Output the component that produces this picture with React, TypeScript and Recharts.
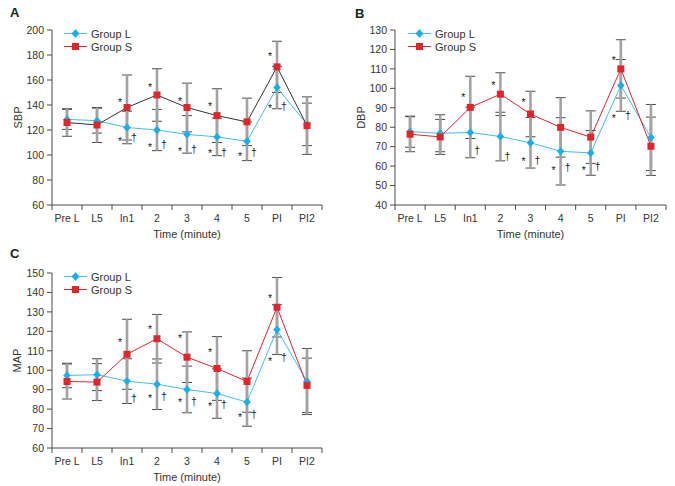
import React from 'react';
import { ComposedChart, Line, XAxis, YAxis, ErrorBar, Legend } from 'recharts';

const categories = ['Pre L', 'L5', 'In1', '2', '3', '4', '5', 'PI', 'PI2'];
const seriesNames = ['Group L', 'Group S'];

// A: SBP
const sbpTicks = [60, 80, 100, 120, 140, 160, 180, 200];
const sbpL = [128.5, 127.5, 122, 120, 116.5, 114.5, 111, 154, 124.5];
const sbpLErr = [8, 10, 13, 16.5, 15, 15, 15.5, 17, 17];
const sbpS = [126, 124, 138, 148, 138, 131.5, 126.5, 170.5, 123.5];
const sbpSErr = [11, 14, 26, 21, 19.5, 21.5, 19, 20.5, 23];
const sbpStarUp = [null, null, 144, 156, 144.5, 140.5, null, 181, null];
const sbpStarDown = [null, null, 112.5, 108, 104.5, 103.3, 100.6, 139, null];
const sbpDagger = [null, null, 113.4, 108, 104, 102, 101.4, 138.4, null];

// B: DBP
const dbpTicks = [40, 50, 60, 70, 80, 90, 100, 110, 120, 130];
const dbpL = [77.7, 76.9, 77.3, 75.2, 72, 67.6, 66.8, 101.5, 74.7];
const dbpLErr = [8, 9.5, 13, 12.5, 13, 17.3, 11.5, 13.3, 17];
const dbpS = [76.4, 75, 90.2, 97, 86.8, 79.9, 74.9, 110, 70.2];
const dbpSErr = [9, 9, 16, 11, 11.7, 15.3, 13.5, 15, 15];
const dbpStarUp = [null, null, 96.7, 102.8, 93.8, null, null, 115.7, null];
const dbpStarDown = [null, null, null, null, 63.5, 59, 59, 86, null];
const dbpDagger = [null, null, 67.8, 64.9, 62.6, 59, 59.5, 86, null];

// C: MAP
const mapTicks = [60, 70, 80, 90, 100, 110, 120, 130, 140, 150];
const mapL = [97.3, 97.7, 94.4, 92.8, 90.1, 88, 83.6, 120.9, 94.2];
const mapLErr = [6.3, 8.2, 11.5, 13, 12, 12.7, 12.4, 12.8, 17];
const mapS = [94.2, 93.9, 108.2, 116.2, 106.7, 100.9, 94.2, 132.4, 92.2];
const mapSErr = [9, 9.5, 18, 12.5, 13, 16.4, 15.8, 15.3, 14];
const mapStarUp = [null, null, 115.4, 122.3, 117.5, 110.6, null, 138.2, null];
const mapStarDown = [null, null, null, 86.9, 84.6, 82.4, 76.8, 105.7, null];
const mapDagger = [null, null, 85.1, 86, 83.5, 82.2, 76.8, 106.4, null];

const CYAN = '#1eaee6';
const CYAN_LINE = '#45bdea';
const RED = '#e0262c';
const AXIS = '#4a4a4a';
const BAR = '#a3a3a3';
const TEXT = '#333';
const FONT = '"Liberation Sans", Arial, sans-serif';

const xTicks = categories.flatMap((_, i) => [i - 0.5, i]).concat(categories.length - 0.5);

const buildRows = (L: number[], Le: number[], S: number[], Se: number[], up: any[], down: any[], dag: any[]) =>
  categories.map((c, i) => ({
    x: i, name: c, L: L[i], Lerr: Le[i], S: S[i], Serr: Se[i], up: up[i], down: down[i], dag: dag[i],
  }));

const XTick = (props: any) => {
  const { x, y, payload } = props;
  const v = payload.value;
  if (Number.isInteger(v)) {
    return (
      <text x={x} y={y + 8.7} textAnchor="middle" fontSize={10.5} fill={TEXT} fontFamily={FONT}>
        {categories[v]}
      </text>
    );
  }
  return <line x1={x} x2={x} y1={y - 8} y2={y - 3} stroke={AXIS} />;
};

const diamond = (p: any) =>
  p.cy == null ? <g key={p.index} /> : (
    <polygon key={p.index} fill={CYAN}
      points={`${p.cx},${p.cy - 4.2} ${p.cx + 3.8},${p.cy} ${p.cx},${p.cy + 4.2} ${p.cx - 3.8},${p.cy}`} />
  );

const square = (p: any) =>
  p.cy == null ? <g key={p.index} /> : (
    <rect key={p.index} x={p.cx - 3.5} y={p.cy - 3.5} width={7} height={7} fill={RED} />
  );

const glyph = (ch: string, dx: number, dy: number) => (p: any) =>
  p.cy == null || p.value == null ? <g key={p.index} /> : (
    <text key={p.index} x={p.cx + dx} y={p.cy + dy} textAnchor="middle" fontSize={10.5} fill="#222" stroke="none" fontFamily={FONT}>
      {ch}
    </text>
  );

const LegendBox = () => (
  <div style={{ fontFamily: FONT, fontSize: 11, color: TEXT }}>
    {seriesNames.map((n, i) => (
      <div key={n} style={{ display: 'flex', alignItems: 'center', height: 13 }}>
        <svg width={23} height={13}>
          <line x1={0} x2={23} y1={6.5} y2={6.5} stroke={i === 0 ? CYAN_LINE : RED} strokeWidth={1} />
          {i === 0 ? (
            <polygon points="11.5,2 15.5,6.5 11.5,11 7.5,6.5" fill={CYAN} />
          ) : (
            <rect x={8} y={3} width={7} height={7} fill={RED} />
          )}
        </svg>
        <span style={{ marginLeft: 4 }}>{n}</span>
      </div>
    ))}
  </div>
);

interface PanelProps {
  letter: string;
  letterPos: { left: number; top: number };
  left: number;
  top: number;
  width: number;
  marginLeft: number;
  marginRight: number;
  yWidth: number;
  yLabel: string;
  yLabelOffset: number;
  ticks: number[];
  data: any[];
  sStroke: string;
  legendLeft: number;
}

const Panel = (p: PanelProps) => {
  const domain = [p.ticks[0], p.ticks[p.ticks.length - 1]];
  return (
    <div style={{ position: 'absolute', left: p.left, top: p.top, width: p.width, height: 243 }}>
      <div style={{ position: 'absolute', left: p.letterPos.left, top: p.letterPos.top, fontFamily: FONT, fontWeight: 'bold', fontSize: 13, color: '#222', lineHeight: '15px' }}>
        {p.letter}
      </div>
      <ComposedChart width={p.width} height={243} data={p.data}
        margin={{ top: 30, right: p.marginRight, left: p.marginLeft, bottom: 0 }}>
        <XAxis dataKey="x" type="number" domain={[-0.5, categories.length - 0.5]} ticks={xTicks} interval={0}
          tick={<XTick />} tickLine={false} tickSize={5} tickMargin={3} stroke={AXIS} height={38}
          label={{ value: 'Time (minute)', position: 'insideBottom', offset: 5, fill: TEXT, fontSize: 11, fontFamily: FONT }} />
        <YAxis type="number" domain={domain} ticks={p.ticks} interval={0} tickSize={5} tickMargin={3}
          width={p.yWidth} stroke={AXIS} tick={{ fill: TEXT, fontSize: 10.5, fontFamily: FONT }}
          label={{ value: p.yLabel, angle: -90, position: 'insideLeft', offset: p.yLabelOffset, fill: TEXT, fontSize: 11, fontFamily: FONT, style: { textAnchor: 'middle' } }} />
        <Legend layout="vertical" align="center" verticalAlign="middle" content={<LegendBox />}
          wrapperStyle={{ left: p.legendLeft, top: 27, width: 100 }} />
        <Line dataKey="L" stroke="none" dot={false} activeDot={false} legendType="none" isAnimationActive={false}>
          <ErrorBar dataKey="Lerr" width={5} stroke={AXIS} strokeWidth={1} isAnimationActive={false} />
        </Line>
        <Line dataKey="S" stroke="none" dot={false} activeDot={false} legendType="none" isAnimationActive={false}>
          <ErrorBar dataKey="Serr" width={5} stroke={AXIS} strokeWidth={1} isAnimationActive={false} />
        </Line>
        <Line dataKey="L" stroke="none" dot={false} activeDot={false} legendType="none" isAnimationActive={false}>
          <ErrorBar dataKey="Lerr" width={0} stroke={BAR} strokeWidth={2.6} isAnimationActive={false} />
        </Line>
        <Line dataKey="S" stroke="none" dot={false} activeDot={false} legendType="none" isAnimationActive={false}>
          <ErrorBar dataKey="Serr" width={0} stroke={BAR} strokeWidth={2.6} isAnimationActive={false} />
        </Line>
        <Line dataKey="L" name={seriesNames[0]} stroke={CYAN_LINE} strokeWidth={1} dot={diamond} activeDot={false} isAnimationActive={false} />
        <Line dataKey="S" name={seriesNames[1]} stroke={p.sStroke} strokeWidth={1} dot={square} activeDot={false} isAnimationActive={false} />
        <Line dataKey="up" stroke="none" dot={glyph('*', -7, 6)} activeDot={false} legendType="none" isAnimationActive={false} />
        <Line dataKey="down" stroke="none" dot={glyph('*', -7, 6)} activeDot={false} legendType="none" isAnimationActive={false} />
        <Line dataKey="dag" stroke="none" dot={glyph('\u2020', 7, 3)} activeDot={false} legendType="none" isAnimationActive={false} />
      </ComposedChart>
    </div>
  );
};

const App = () => (
  <div style={{ position: 'absolute', left: 0, top: 0, width: 675, height: 486, background: '#fff', overflow: 'hidden' }}>
    <Panel letter="A" letterPos={{ left: 10, top: 5 }} left={0} top={0} width={340}
      marginLeft={8} marginRight={18} yWidth={44} yLabel="SBP" yLabelOffset={10}
      ticks={sbpTicks} data={buildRows(sbpL, sbpLErr, sbpS, sbpSErr, sbpStarUp, sbpStarDown, sbpDagger)}
      sStroke="#333" legendLeft={64} />
    <Panel letter="B" letterPos={{ left: 15, top: 6 }} left={340} top={0} width={335}
      marginLeft={12} marginRight={9} yWidth={43} yLabel="DBP" yLabelOffset={8.7}
      ticks={dbpTicks} data={buildRows(dbpL, dbpLErr, dbpS, dbpSErr, dbpStarUp, dbpStarDown, dbpDagger)}
      sStroke={RED} legendLeft={68} />
    <Panel letter="C" letterPos={{ left: 10, top: 3 }} left={0} top={243} width={340}
      marginLeft={8} marginRight={18} yWidth={44} yLabel="MAP" yLabelOffset={9}
      ticks={mapTicks} data={buildRows(mapL, mapLErr, mapS, mapSErr, mapStarUp, mapStarDown, mapDagger)}
      sStroke={RED} legendLeft={64} />
  </div>
);

export default App;
